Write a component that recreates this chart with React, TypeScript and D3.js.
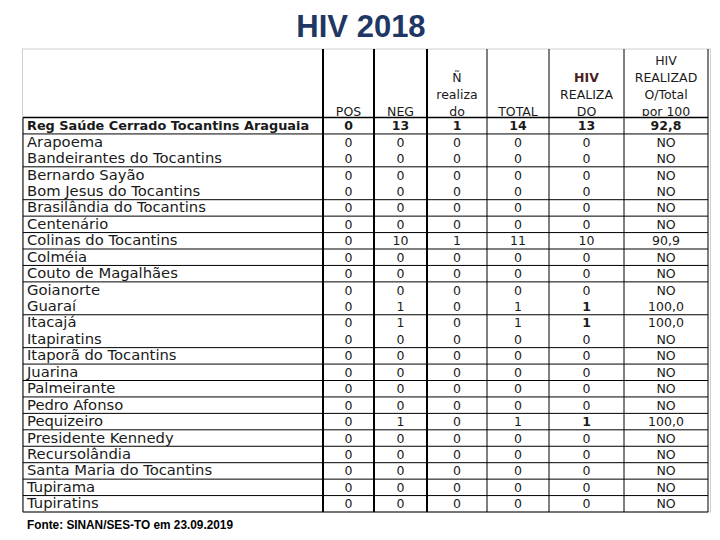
import React from "react";
import * as d3 from "d3";

const municipios = [
  "Reg Saúde Cerrado Tocantins Araguaia",
  "Arapoema",
  "Bandeirantes do Tocantins",
  "Bernardo Sayão",
  "Bom Jesus do Tocantins",
  "Brasilândia do Tocantins",
  "Centenário",
  "Colinas do Tocantins",
  "Colméia",
  "Couto de Magalhães",
  "Goianorte",
  "Guaraí",
  "Itacajá",
  "Itapiratins",
  "Itaporã do Tocantins",
  "Juarina",
  "Palmeirante",
  "Pedro Afonso",
  "Pequizeiro",
  "Presidente Kennedy",
  "Recursolândia",
  "Santa Maria do Tocantins",
  "Tupirama",
  "Tupiratins",
];
const pos = [0,0,0,0,0,0,0,0,0,0,0,0,0,0,0,0,0,0,0,0,0,0,0,0];
const neg = [13,0,0,0,0,0,0,10,0,0,0,1,1,0,0,0,0,0,1,0,0,0,0,0];
const naoRealizado = [1,0,0,0,0,0,0,1,0,0,0,0,0,0,0,0,0,0,0,0,0,0,0,0];
const total = [14,0,0,0,0,0,0,11,0,0,0,1,1,0,0,0,0,0,1,0,0,0,0,0];
const hivRealizado = [13,0,0,0,0,0,0,10,0,0,0,1,1,0,0,0,0,0,1,0,0,0,0,0];
const porCem = ["92,8","NO","NO","NO","NO","NO","NO","90,9","NO","NO","NO","100,0","100,0","NO","NO","NO","NO","NO","100,0","NO","NO","NO","NO","NO"];

const headers = [
  [""],
  ["POS"],
  ["NEG"],
  ["Ñ", "realiza", "do"],
  ["TOTAL"],
  ["HIV", "REALIZA", "DO"],
  ["HIV", "REALIZAD", "O/Total", "por 100"],
];

const title = "HIV 2018";
const fonte = "Fonte: SINAN/SES-TO em 23.09.2019";

// layout
const colEdges = [23, 323, 374, 427, 487, 549, 624, 708];
const thickEdges = [323, 374, 427];
const tableTop = 49;
const headerBottom = 117.5;
const tableBottom = 512;
const noLineAfter = [1, 3, 10, 12];

export default function App() {
  const y = d3
    .scaleBand<number>()
    .domain(d3.range(municipios.length))
    .range([headerBottom, tableBottom])
    .padding(0);
  const cols = [pos, neg, naoRealizado, total, hivRealizado];
  const bodyFont = "'DejaVu Sans', sans-serif";
  const txt = "#1a1a1a";
  const lineH = 17;
  const nameX = 27;
  const sx = 1.12;

  return (
    <svg
      width={720}
      height={540}
      style={{ position: "absolute", left: 0, top: 0, background: "#fff" }}
    >
      <defs>
        <clipPath id="hdrclip">
          <rect x={0} y={tableTop} width={720} height={headerBottom - tableTop - 1.5} />
        </clipPath>
      </defs>
      <rect x={0} y={0} width={720} height={540} fill="#fff" />
      <text
        x={361}
        y={37}
        textAnchor="middle"
        fontFamily="'Liberation Sans', Arial, sans-serif"
        fontWeight="bold"
        fontSize={31}
        fill="#1f3763"
      >
        {title}
      </text>

      {/* outer light frame */}
      <rect x={22.5} y={tableTop} width={688} height={tableBottom - tableTop} fill="none" stroke="#d0d0d0" strokeWidth={1} />

      {/* header text */}
      <g clipPath="url(#hdrclip)" fontFamily={bodyFont} fontSize={12.5} fill={txt}>
        {headers.map((lines, ci) => {
          if (ci === 0) return null;
          const cx = (colEdges[ci] + colEdges[ci + 1]) / 2;
          return lines.map((l, li) => (
            <text
              key={ci + "-" + li}
              x={cx}
              y={116 - (lines.length - 1 - li) * lineH}
              textAnchor="middle"
              fontWeight={(ci === 5 && li === 0) ? "bold" : "normal"}
              fill={(ci === 5 && li === 0) ? "#4a1f1f" : txt}
            >
              {l}
            </text>
          ));
        })}
      </g>

      {/* body rows */}
      <g fontFamily={bodyFont} fontSize={12.5} fill={txt}>
        {municipios.map((m, i) => {
          const cy = (y(i) as number) + y.bandwidth() / 2 + 4.5;
          const bold = i === 0;
          return (
            <g key={m}>
              <g transform={`translate(${nameX},${cy}) scale(${sx},1)`}>
                <text x={0} y={0} fontWeight={bold ? "bold" : "normal"} fontSize={bold ? 11.5 : 13.2}>
                  {m}
                </text>
              </g>
              {cols.map((arr, ci) => (
                <text
                  key={ci}
                  x={(colEdges[ci + 1] + colEdges[ci + 2]) / 2}
                  y={cy}
                  textAnchor="middle"
                  fontWeight={bold || (ci === 4 && arr[i] === 1) ? "bold" : "normal"}
                >
                  {arr[i]}
                </text>
              ))}
              <text
                x={(colEdges[6] + colEdges[7]) / 2}
                y={cy}
                textAnchor="middle"
                fontWeight={bold ? "bold" : "normal"}
              >
                {porCem[i]}
              </text>
            </g>
          );
        })}
      </g>

      {/* horizontal rules */}
      <line x1={23} x2={708} y1={headerBottom} y2={headerBottom} stroke="#000" strokeWidth={1.6} />
      {municipios.map((m, i) =>
        noLineAfter.includes(i) ? null : (
          <line
            key={"h" + i}
            x1={23}
            x2={708}
            y1={(y(i) as number) + y.bandwidth()}
            y2={(y(i) as number) + y.bandwidth()}
            stroke="#000"
            strokeWidth={1}
          />
        )
      )}
      {/* vertical rules */}
      <line x1={23} x2={23} y1={headerBottom} y2={tableBottom} stroke="#000" strokeWidth={1} />
      {colEdges.slice(1).map((x) => (
        <line
          key={"v" + x}
          x1={x}
          x2={x}
          y1={tableTop}
          y2={tableBottom}
          stroke="#000"
          strokeWidth={thickEdges.includes(x) ? 2 : 1}
        />
      ))}

      <text
        x={27}
        y={529}
        fontFamily="'Liberation Sans Narrow', 'Liberation Sans', Arial, sans-serif"
        fontWeight="bold"
        fontSize={13}
        fill="#000"
        textLength={206}
        lengthAdjust="spacingAndGlyphs"
      >
        {fonte}
      </text>
    </svg>
  );
}
